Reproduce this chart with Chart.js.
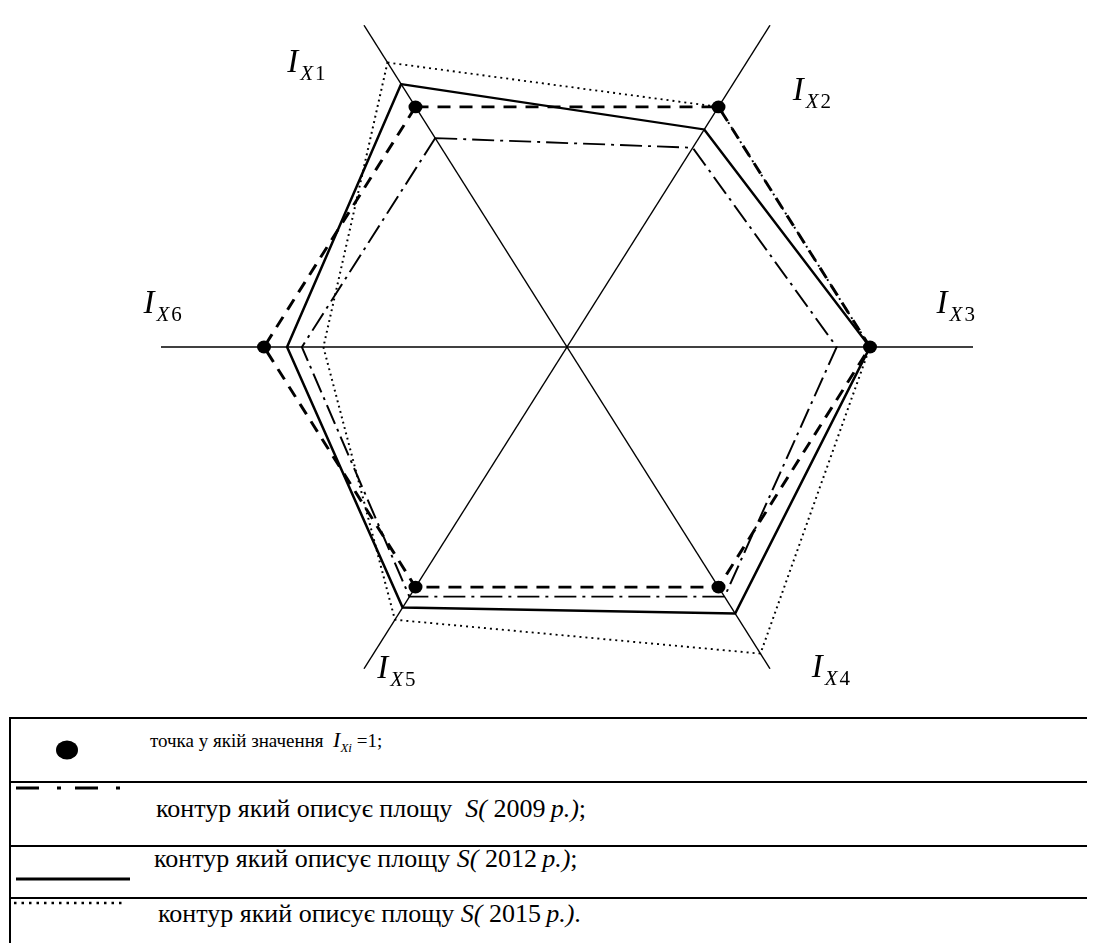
<!DOCTYPE html>
<html>
<head>
<meta charset="utf-8">
<script src="https://cdn.jsdelivr.net/npm/chart.js@4.4.1/dist/chart.umd.min.js"></script>
<style>
  html, body { margin: 0; padding: 0; background: #fff; }
  body { width: 1097px; height: 943px; position: relative; overflow: hidden; font-family: 'Liberation Serif', 'Times New Roman', serif; }
  #viz { position: absolute; left: 0; top: -103px; }
  #legend { position: absolute; left: 0; top: 0; width: 1097px; height: 943px; pointer-events: none; }
  .row { position: absolute; left: 9px; width: 1078px; border-top: 2px solid #000; border-left: 2px solid #000; background: #fff; box-sizing: border-box; }
  .txt { position: absolute; font-size: 26px; line-height: 26px; white-space: nowrap; color: #000; }
  .txt.small { font-size: 19px; line-height: 19px; }
  .big { font-size: 22px; font-style: italic; }
  .sub { font-size: 13px; font-style: italic; position: relative; top: 5px; }
</style>
</head>
<body>
<canvas id="viz" width="1097" height="900"></canvas>

<div id="legend">
  <div class="row" style="top:717px;height:64px;"></div>
  <div class="row" style="top:781px;height:64px;"></div>
  <div class="row" style="top:845px;height:52px;"></div>
  <div class="row" style="top:897px;height:60px;"></div>
  <svg width="1097" height="943" style="position:absolute;left:0;top:0;">
    <ellipse cx="67" cy="750" rx="11" ry="9.5" fill="#000"/>
    <line x1="16" y1="788" x2="122" y2="788" stroke="#000" stroke-width="3" stroke-dasharray="23 18 4 14"/>
    <line x1="16" y1="879" x2="130" y2="879" stroke="#000" stroke-width="3"/>
    <line x1="14" y1="903" x2="124" y2="903" stroke="#000" stroke-width="2.5" stroke-dasharray="2.5 5"/>
  </svg>
  <div class="txt small" style="left:150px;top:730px;">точка у якій значення &nbsp;<span class="big">I</span><span class="sub">Xi</span> =1;</div>
  <div class="txt" style="left:156px;top:796px;">контур який описує площу &nbsp;<i>S(</i> 2009&thinsp;<i>p.)</i>;</div>
  <div class="txt" style="left:154px;top:846px;">контур який описує площу <i>S(</i> 2012&thinsp;<i>p.)</i>;</div>
  <div class="txt" style="left:158px;top:901px;">контур який описує площу <i>S(</i> 2015&thinsp;<i>p.)</i>.</div>
</div>

<script>
// Axes (clockwise from upper-left)
const AXES = ['X1', 'X2', 'X3', 'X4', 'X5', 'X6'];

// Reference contour: I_Xi = 1 on every axis
const UNIT = [1, 1, 1, 1, 1, 1];

// Contours per year
const S_2009 = [0.87, 0.83, 0.89, 1.04, 1.04, 0.875];
const S_2012 = [1.095, 0.906, 1.0, 1.11, 1.085, 0.924];
const S_2015 = [1.185, 1.0, 1.0, 1.277, 1.136, 0.804];

const R_MAX = 1.34;      // how far the axis lines run
const SQUISH = 0.915;    // reference hexagon is a bit flattened vertically
const LABEL_AT = 1.2;
// label offsets (px) from the axis point at LABEL_AT
const LABEL_OFFSETS = [[-98, 13], [44, 41], [6, -34], [63, 42], [-8, 43], [-60, -34]];

// flatten the radar vertically around its centre, then write the axis captions
const squishPlugin = {
  id: 'squish',
  beforeDraw(chart) {
    const r = chart.scales.r, c = chart.ctx;
    c.save();
    c.translate(0, r.yCenter);
    c.scale(1, SQUISH);
    c.translate(0, -r.yCenter);
  },
  afterDraw(chart) {
    const r = chart.scales.r, c = chart.ctx;
    c.restore();
    c.save();
    c.fillStyle = '#000';
    c.textBaseline = 'alphabetic';
    AXES.forEach((name, i) => {
      const p = r.getPointPosition(i, r.getDistanceFromCenterForValue(LABEL_AT));
      const x = p.x + LABEL_OFFSETS[i][0];
      const y = r.yCenter + (p.y - r.yCenter) * SQUISH + LABEL_OFFSETS[i][1];
      c.font = 'italic 33px "Liberation Serif"';
      c.fillText('I', x, y);
      let sx = x + c.measureText('I').width + 2;
      c.font = 'italic 21px "Liberation Serif"';
      c.fillText('X', sx, y + 8);
      sx += c.measureText('X').width + 2;
      c.font = '21px "Liberation Serif"';
      c.fillText(name.slice(1), sx, y + 8);
    });
    c.restore();
  }
};

const base = { fill: false, borderColor: '#000', pointRadius: 0, tension: 0 };

new Chart(document.getElementById('viz').getContext('2d'), {
  type: 'radar',
  data: {
    labels: AXES,
    datasets: [
      { ...base, label: 'I=1 points', data: UNIT, showLine: false, pointRadius: 7, pointBackgroundColor: '#000', pointBorderWidth: 0 },
      { ...base, label: 'I=1', data: UNIT, borderWidth: 3, borderDash: [13, 9] },
      { ...base, label: '2009', data: S_2009, borderWidth: 2, borderDash: [22, 6, 3, 6] },
      { ...base, label: '2012', data: S_2012, borderWidth: 2.5 },
      { ...base, label: '2015', data: S_2015, borderWidth: 2, borderDash: [2, 4] }
    ]
  },
  options: {
    responsive: false,
    animation: false,
    layout: { padding: { left: 161, right: 124, top: 44, bottom: 44 } },
    plugins: { legend: { display: false }, tooltip: { enabled: false } },
    scales: {
      r: {
        min: 0,
        max: R_MAX,
        startAngle: -30,
        grid: { display: false },
        ticks: { display: false },
        pointLabels: { display: false },
        angleLines: { display: true, color: '#000', lineWidth: 1.5 }
      }
    }
  },
  plugins: [squishPlugin]
});
</script>
</body>
</html>
